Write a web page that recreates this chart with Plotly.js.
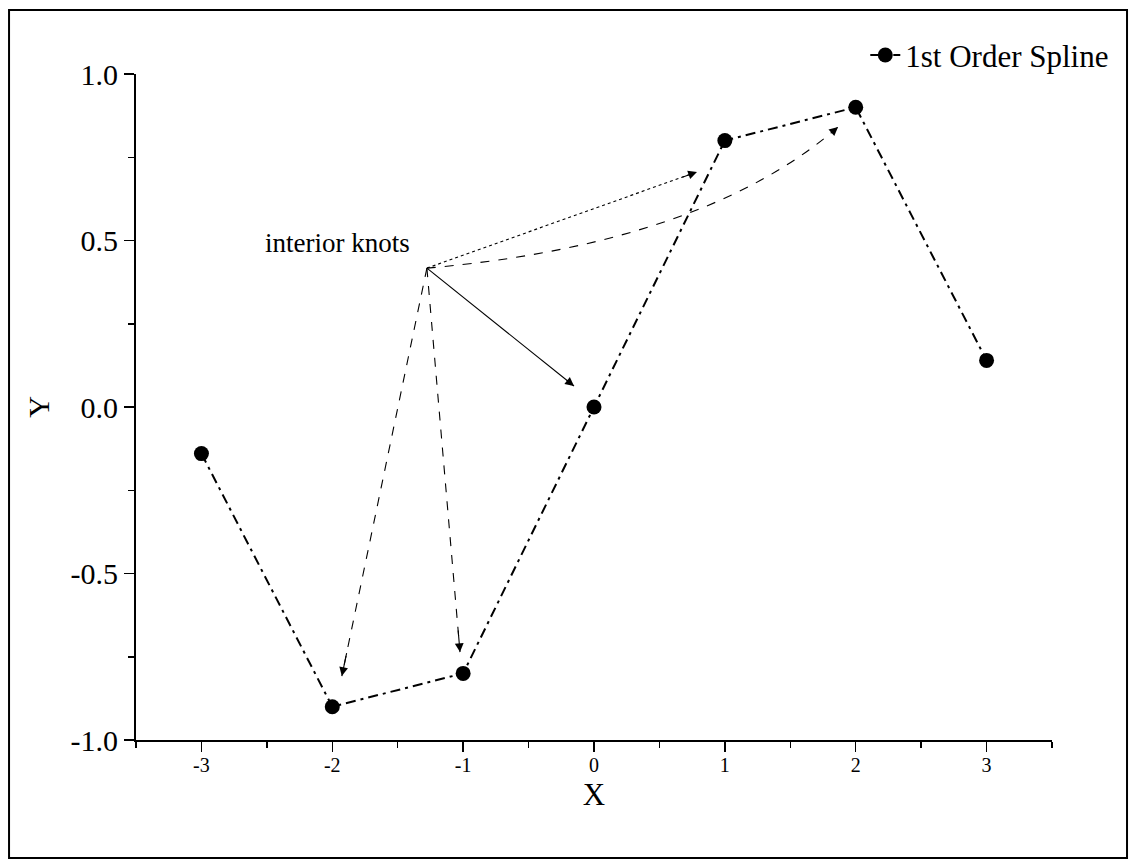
<!DOCTYPE html>
<html>
<head>
<meta charset="utf-8">
<script src="https://cdn.plot.ly/plotly-3.0.1.min.js"></script>
<style>html,body{margin:0;padding:0;background:#fff;}#chart{width:1130px;height:863px;}</style>
</head>
<body>
<div id="chart"></div>
<script>
// Data
const xVals = [-3, -2, -1, 0, 1, 2, 3];
const yVals = [-0.14, -0.9, -0.8, 0.0, 0.8, 0.9, 0.14];
const seriesName = '1st Order Spline';
const xTickVals = [-3, -2, -1, 0, 1, 2, 3];
const xTickText = ['-3', '-2', '-1', '0', '1', '2', '3'];
const yTickVals = [-1, -0.5, 0, 0.5, 1];
const yTickText = ['-1.0', '-0.5', '0.0', '0.5', '1.0'];
const annotText = 'interior knots';
// arrow origin and tips (data coords)
const arrowOrigin = [-1.277, 0.417];
const arrowTipsX = [0.787, -0.153, -1.024, -1.927];
const arrowTipsY = [0.706, 0.063, -0.736, -0.808];
const arrowDash = ['dot', 'solid', 'dash', 'dash'];
// curved arrow control points (cubic bezier)
const curveX = [-1.277, -0.413, 0.963, 1.865];
const curveY = [0.417, 0.447, 0.532, 0.841];

const shapes = [];
const annotations = [];

// outer frame
shapes.push({type:'rect', xref:'paper', yref:'paper', x0:-0.1386, x1:1.0819, y0:-0.1772, y1:1.0961,
  line:{color:'#000', width:2}, fillcolor:'rgba(0,0,0,0)', layer:'below'});

function arrowHead(x, y, fromx, fromy) {
  const f = 0.06;
  annotations.push({x:x, y:y, xref:'x', yref:'y', axref:'x', ayref:'y',
    ax: x - (x - fromx) * f, ay: y - (y - fromy) * f,
    showarrow:true, arrowhead:2, arrowsize:1.6, arrowwidth:1.1, arrowcolor:'#000', text:''});
}

for (let i = 0; i < arrowTipsX.length; i++) {
  shapes.push({type:'line', xref:'x', yref:'y', x0:arrowOrigin[0], y0:arrowOrigin[1],
    x1:arrowTipsX[i], y1:arrowTipsY[i], line:{color:'#000', width:1.1, dash:arrowDash[i]}});
  arrowHead(arrowTipsX[i], arrowTipsY[i], arrowOrigin[0], arrowOrigin[1]);
}
// curved arrow
shapes.push({type:'path', xref:'x', yref:'y',
  path:`M ${curveX[0]},${curveY[0]} C ${curveX[1]},${curveY[1]} ${curveX[2]},${curveY[2]} ${curveX[3]},${curveY[3]}`,
  line:{color:'#000', width:1.1, dash:'dash'}});
arrowHead(curveX[3], curveY[3], curveX[2], curveY[2]);

annotations.push({x:arrowOrigin[0], y:arrowOrigin[1], xref:'x', yref:'y', text:annotText, showarrow:false,
  xanchor:'right', yanchor:'bottom', xshift:-15, yshift:8,
  font:{family:'Liberation Serif, Times New Roman, serif', size:27, color:'#000'}});

const trace = {
  x: xVals, y: yVals, name: seriesName, type:'scatter', mode:'lines+markers',
  line:{color:'#000', width:2, dash:'10px,5px,3px,5px'},
  marker:{color:'#000', size:15, symbol:'circle'}
};

const font = 'Liberation Serif, Times New Roman, serif';
const layout = {
  width:1130, height:863,
  margin:{l:136, r:78, t:74, b:123, pad:0},
  paper_bgcolor:'#fff', plot_bgcolor:'#fff',
  font:{family:font, color:'#000'},
  showlegend:true,
  legend:{x:1.068, y:1.028, xanchor:'right', yanchor:'middle', bgcolor:'rgba(0,0,0,0)',
    font:{family:font, size:31, color:'#000'}, itemwidth:30},
  xaxis:{range:[-3.5,3.5], showline:true, linecolor:'#000', linewidth:2, showgrid:false, zeroline:false,
    ticks:'outside', ticklen:10, tickwidth:1.5, tickcolor:'#000', ticklabelstandoff:-4,
    tickvals:xTickVals, ticktext:xTickText, tickfont:{family:font, size:20, color:'#000'},
    minor:{ticks:'outside', ticklen:6, tickwidth:1.5, tickcolor:'#000', dtick:0.5, tick0:0.5, showgrid:false},
    title:{text:'X', font:{family:font, size:31, color:'#000'}, standoff:8}},
  yaxis:{range:[-1,1], showline:true, linecolor:'#000', linewidth:2, showgrid:false, zeroline:false,
    ticks:'outside', ticklen:10, tickwidth:1.5, tickcolor:'#000',
    tickvals:yTickVals, ticktext:yTickText, tickfont:{family:font, size:30, color:'#000'},
    minor:{ticks:'outside', ticklen:6, tickwidth:1.5, tickcolor:'#000', dtick:0.25, tick0:0.25, showgrid:false},
    title:{text:'Y', font:{family:font, size:30, color:'#000'}, standoff:12}},
  shapes:shapes,
  annotations:annotations
};

Plotly.newPlot('chart', [trace], layout, {displayModeBar:false, staticPlot:true});
</script>
</body>
</html>
